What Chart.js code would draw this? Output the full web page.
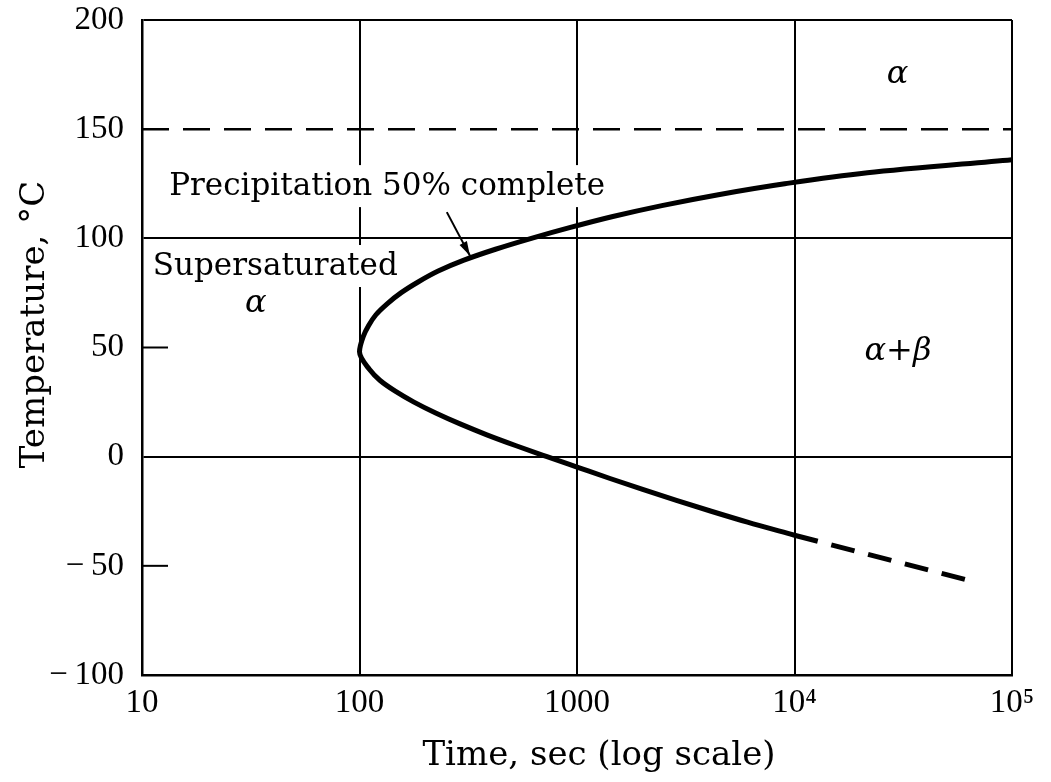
<!DOCTYPE html>
<html>
<head>
<meta charset="utf-8">
<script src="https://cdn.jsdelivr.net/npm/chart.js@4/dist/chart.umd.min.js"></script>
<style>
  html, body { margin: 0; padding: 0; background: #fff; }
  #wrap { width: 1051px; height: 782px; }
</style>
</head>
<body>
<div id="wrap"><canvas id="c" width="1051" height="782"></canvas></div>
<script>
// ---- data (time in s, temperature in °C) ----
const curveTime = [100000, 21630, 9016, 4467, 2455, 1462, 933, 617, 422, 302, 230, 186, 155, 134, 119, 110, 104, 100,
                   111, 124, 146, 178, 224, 290, 385, 525, 728, 1016, 1419, 2004, 2864, 4140, 6080, 10000];
const curveTemp = [136, 130, 125, 120, 115, 110, 105, 100, 95, 90, 85, 80, 75, 70, 65, 60, 55, 48,
                   40, 35, 30, 25, 20, 15, 10, 5, 0, -5, -10, -15, -20, -25, -30, -36];
const extrapTime = [10000, 65000];
const extrapTemp = [-36, -57];
const solvusTime = [10, 100000];
const solvusTemp = [150, 150];

const xTickValues = [10, 100, 1000, 10000, 100000];
const xTickLabels = ['10', '100', '1000', '10\u2074', '10\u2075'];
const yTickValues = [-100, -50, 0, 50, 100, 150, 200];
const yTickLabels = ['\u2212\u2009100', '\u2212\u200950', '0', '50', '100', '150', '200'];
const yFullGrid = [200, 100, 0, -100];
const yInnerTicks = [50, -50];

// annotations: text, time (centre), temp (baseline)
const labelTexts = ['Precipitation 50% complete', 'Supersaturated', '\u03b1', '\u03b1', '\u03b1+\u03b2'];
const labelTimes = [134, 41, 33.4, 29800, 29900];
const labelTemps = [119.8, 83.2, 66.2, 171, 44.2];
const labelItalic = [false, false, true, true, true];
const arrowFrom = [252, 112];
const arrowTo = [322, 92];

const xTitle = 'Time, sec (log scale)';
const yTitle = 'Temperature, \u00b0C';

const toPts = (xs, ys) => xs.map((x, i) => ({x: x, y: ys[i]}));

const annotPlugin = {
  id: 'annot',
  afterDatasetsDraw(chart) {
    const ctx = chart.ctx;
    const xs = chart.scales.x, ys = chart.scales.y;
    const ca = chart.chartArea;
    ctx.save();
    ctx.strokeStyle = '#000';
    ctx.lineWidth = 2;
    yInnerTicks.forEach(v => {
      const py = ys.getPixelForValue(v);
      ctx.beginPath();
      ctx.moveTo(ca.left, py);
      ctx.lineTo(ca.left + 26, py);
      ctx.stroke();
    });
    ctx.textAlign = 'center';
    ctx.textBaseline = 'alphabetic';
    labelTexts.forEach((t, i) => {
      const px = xs.getPixelForValue(labelTimes[i]);
      const py = ys.getPixelForValue(labelTemps[i]);
      ctx.font = labelItalic[i] ? 'italic 32px "DejaVu Serif"' : '31px "DejaVu Serif"';
      const w = ctx.measureText(t).width;
      if (!labelItalic[i]) {
        ctx.fillStyle = '#fff';
        ctx.fillRect(px - w / 2 - 4, py - 30, w + 8, 42);
      }
      ctx.fillStyle = '#000';
      ctx.fillText(t, px, py);
    });
    const ax0 = xs.getPixelForValue(arrowFrom[0]), ay0 = ys.getPixelForValue(arrowFrom[1]);
    const ax1 = xs.getPixelForValue(arrowTo[0]), ay1 = ys.getPixelForValue(arrowTo[1]);
    ctx.lineWidth = 2;
    ctx.beginPath();
    ctx.moveTo(ax0, ay0);
    ctx.lineTo(ax1, ay1);
    ctx.stroke();
    const ang = Math.atan2(ay1 - ay0, ax1 - ax0);
    const L = 15, W = 0.28;
    ctx.beginPath();
    ctx.moveTo(ax1, ay1);
    ctx.lineTo(ax1 - L * Math.cos(ang - W), ay1 - L * Math.sin(ang - W));
    ctx.lineTo(ax1 - L * Math.cos(ang + W), ay1 - L * Math.sin(ang + W));
    ctx.closePath();
    ctx.fill();
    // axis titles
    ctx.font = '34px "DejaVu Serif"';
    ctx.fillText(xTitle, (ca.left + ca.right) / 2 + 22, 765);
    ctx.translate(44, (ca.top + ca.bottom) / 2 - 23);
    ctx.rotate(-Math.PI / 2);
    ctx.fillText(yTitle, 0, 0);
    ctx.restore();
  }
};

new Chart(document.getElementById('c'), {
  type: 'line',
  data: {
    datasets: [
      { data: toPts(curveTime, curveTemp), indexAxis: 'y', cubicInterpolationMode: 'monotone',
        borderColor: '#000', borderWidth: 5, pointRadius: 0, fill: false },
      { data: toPts(extrapTime, extrapTemp), borderColor: '#000', borderWidth: 5, borderDash: [24, 14], pointRadius: 0, fill: false },
      { data: toPts(solvusTime, solvusTemp), borderColor: '#000', borderWidth: 2.5, borderDash: [27, 14], pointRadius: 0, fill: false }
    ]
  },
  options: {
    responsive: false,
    animation: false,
    events: [],
    layout: { padding: { top: 20, right: 39, left: 0, bottom: 0 } },
    plugins: { legend: { display: false }, tooltip: { enabled: false } },
    scales: {
      x: {
        type: 'logarithmic',
        min: 10, max: 100000,
        afterBuildTicks: s => { s.ticks = xTickValues.map(v => ({ value: v })); },
        afterFit: s => { s.height = 107; },
        ticks: {
          autoSkip: false, maxRotation: 0, padding: 9, color: '#000',
          font: { family: '"Liberation Serif"', size: 33 },
          callback: (v) => { const i = xTickValues.indexOf(v); return i >= 0 ? xTickLabels[i] : ''; }
        },
        grid: { color: '#000', lineWidth: 2, drawTicks: false },
        border: { color: '#000', width: 2.5 }
      },
      y: {
        type: 'linear',
        min: -100, max: 200,
        afterBuildTicks: s => { s.ticks = yTickValues.map(v => ({ value: v })); },
        afterFit: s => { s.width = 142; s.paddingTop = 0; s.paddingBottom = 0; },
        ticks: {
          padding: 18, color: '#000',
          font: { family: '"Liberation Serif"', size: 33 },
          callback: (v) => { const i = yTickValues.indexOf(v); return i >= 0 ? yTickLabels[i] : ''; }
        },
        grid: {
          drawTicks: false, lineWidth: 2,
          color: ctx => (ctx.tick && yFullGrid.includes(ctx.tick.value)) ? '#000' : 'rgba(0,0,0,0)'
        },
        border: { color: '#000', width: 2.5 }
      }
    }
  },
  plugins: [annotPlugin]
});
</script>
</body>
</html>
